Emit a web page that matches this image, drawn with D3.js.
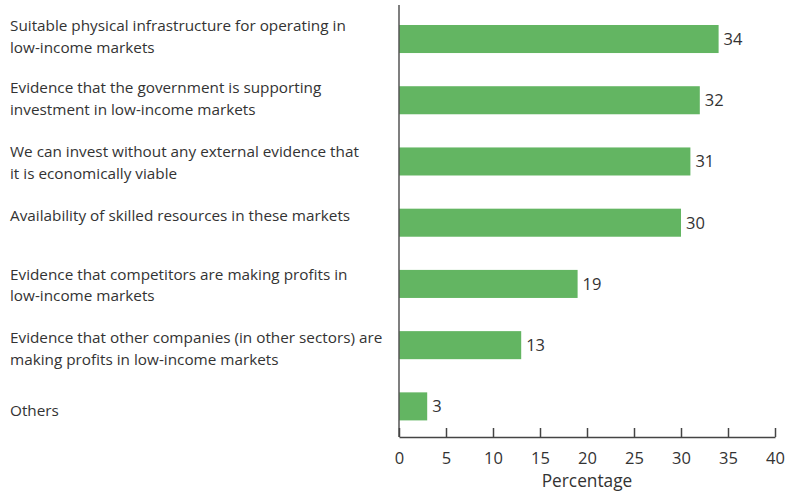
<!DOCTYPE html>
<html>
<head>
<meta charset="utf-8">
<script src="https://cdn.jsdelivr.net/npm/d3@7"></script>
<style>
  html, body { margin: 0; padding: 0; background: #fff; }
  svg { display: block; }
  text { font-family: "Open Sans", "Noto Sans", sans-serif; fill: #333; }
</style>
</head>
<body>
<svg id="chart" width="786" height="495"></svg>
<script>
// Survey answers (each category label wrapped over its display lines)
const categories = [
  ["Suitable physical infrastructure for operating in", "low-income markets"],
  ["Evidence that the government is supporting", "investment in low-income markets"],
  ["We can invest without any external evidence that", "it is economically viable"],
  ["Availability of skilled resources in these markets"],
  ["Evidence that competitors are making profits in", "low-income markets"],
  ["Evidence that other companies (in other sectors) are", "making profits in low-income markets"],
  ["Others"]
];
const values = [34, 32, 31, 30, 19, 13, 3];
const xTicks = [0, 5, 10, 15, 20, 25, 30, 35, 40];
const xTitle = "Percentage";

// Layout
const x0 = 399, x1 = 775, yTop = 8.4, yBottom = 437;
const labelX = 10, lineGap = 21.5;
const labelDy = [-8, -7, -4, -2, -4, -2, 10]; // baseline of first line vs. bar centre
const barColor = "#63b562";

const svg = d3.select("#chart");
const ids = categories.map((_, i) => i);

const x = d3.scaleLinear().domain([0, 40]).range([x0, x1]);
const y = d3.scaleBand().domain(ids).range([yTop, yBottom])
  .paddingInner(0.542).paddingOuter(0.271);

// Bars
svg.append("g").selectAll("rect")
  .data(values)
  .join("rect")
  .attr("x", x(0))
  .attr("y", (d, i) => y(i))
  .attr("width", d => x(d) - x(0))
  .attr("height", y.bandwidth())
  .attr("fill", barColor);

// Value labels
svg.append("g").selectAll("text")
  .data(values)
  .join("text")
  .attr("x", d => x(d) + 5)
  .attr("y", (d, i) => y(i) + y.bandwidth() / 2)
  .attr("dy", "0.36em")
  .style("font-size", "16.5px")
  .text(d => d);

// Category labels
const lab = svg.append("g").selectAll("text")
  .data(categories)
  .join("text")
  .attr("x", labelX)
  .attr("y", (d, i) => y(i) + y.bandwidth() / 2 + labelDy[i])
  .style("font-size", "15.3px");
lab.selectAll("tspan")
  .data(d => d)
  .join("tspan")
  .attr("x", labelX)
  .attr("dy", (d, j) => j === 0 ? 0 : lineGap)
  .text(d => d);

// Vertical axis line
svg.append("line")
  .attr("x1", x(0)).attr("x2", x(0))
  .attr("y1", 5).attr("y2", yBottom)
  .attr("stroke", "#555").attr("stroke-width", 1.5);

// Bottom axis with inward ticks
const axis = svg.append("g")
  .attr("transform", `translate(0,${yBottom})`)
  .call(d3.axisBottom(x).tickValues(xTicks).tickSize(-9).tickPadding(0).tickSizeOuter(0));
axis.select(".domain").attr("stroke", "#444").attr("stroke-width", 1.5);
axis.selectAll(".tick line").attr("stroke", "#444").attr("stroke-width", 1.5);
axis.selectAll(".tick text")
  .attr("y", 26.5)
  .attr("dy", 0)
  .style("font-size", "16.5px")
  .style("font-family", "\"Open Sans\", sans-serif")
  .attr("fill", "#333");

// Axis title
svg.append("text")
  .attr("x", (x0 + x1) / 2)
  .attr("y", 487)
  .attr("text-anchor", "middle")
  .style("font-size", "17.3px")
  .text(xTitle);
</script>
</body>
</html>
